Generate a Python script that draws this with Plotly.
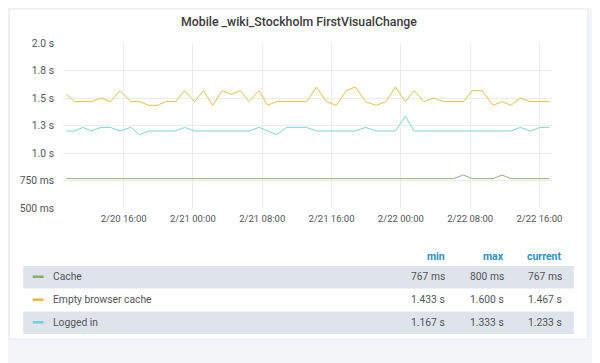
import plotly.graph_objects as go

# ---------------- data ----------------
times = [
    "2019-02-20 09:23", "2019-02-20 10:20", "2019-02-20 11:18", "2019-02-20 12:15",
    "2019-02-20 13:24", "2019-02-20 14:28", "2019-02-20 15:35", "2019-02-20 16:50",
    "2019-02-20 17:48", "2019-02-20 18:57", "2019-02-20 19:54", "2019-02-20 20:51",
    "2019-02-20 22:00", "2019-02-20 23:02", "2019-02-21 00:11", "2019-02-21 01:13",
    "2019-02-21 02:17", "2019-02-21 03:22", "2019-02-21 04:26", "2019-02-21 05:28",
    "2019-02-21 06:29", "2019-02-21 07:38", "2019-02-21 08:36", "2019-02-21 09:40",
    "2019-02-21 10:49", "2019-02-21 11:58", "2019-02-21 13:07", "2019-02-21 14:16",
    "2019-02-21 15:25", "2019-02-21 16:33", "2019-02-21 17:42", "2019-02-21 18:46",
    "2019-02-21 19:55", "2019-02-21 21:09", "2019-02-21 22:17", "2019-02-21 23:22",
    "2019-02-22 00:31", "2019-02-22 01:32", "2019-02-22 02:41", "2019-02-22 03:50",
    "2019-02-22 04:55", "2019-02-22 06:04", "2019-02-22 07:13", "2019-02-22 08:14",
    "2019-02-22 09:23", "2019-02-22 10:39", "2019-02-22 11:41", "2019-02-22 12:43",
    "2019-02-22 13:47", "2019-02-22 14:56", "2019-02-22 16:05", "2019-02-22 17:09",
]

cache_ms = [767] * 42 + [800] + [767] * 3 + [800] + [767] * 5

empty_cache_ms = [
    1533, 1467, 1467, 1467, 1500, 1467, 1567, 1467, 1467, 1433, 1433, 1467,
    1467, 1567, 1467, 1567, 1433, 1567, 1533, 1567, 1467, 1567, 1433, 1467,
    1467, 1467, 1467, 1600, 1467, 1433, 1567, 1600, 1467, 1433, 1467, 1600,
    1467, 1567, 1467, 1500, 1467, 1467, 1467, 1567, 1567, 1433, 1467, 1433,
    1500, 1467, 1467, 1467,
]

logged_in_ms = [
    1200, 1200, 1233, 1200, 1233, 1233, 1200, 1233, 1167, 1200, 1200, 1200,
    1200, 1233, 1200, 1200, 1200, 1200, 1200, 1200, 1200, 1233, 1200, 1167,
    1233, 1233, 1233, 1200, 1200, 1200, 1200, 1200, 1233, 1200, 1200, 1200,
    1333, 1200, 1200, 1200, 1200, 1200, 1200, 1200, 1200, 1200, 1200, 1200,
    1233, 1200, 1233, 1233,
]

series_names = ["Cache", "Empty browser cache", "Logged in"]
series_colors = ["#7EB26D", "#EAB839", "#6ED0E0"]

y_tickvals = [500, 750, 1000, 1250, 1500, 1750, 2000]
y_ticktext = ["500 ms", "750 ms", "1.0 s", "1.3 s", "1.5 s", "1.8 s", "2.0 s"]

x_tickvals = ["2019-02-20 16:00", "2019-02-21 00:00", "2019-02-21 08:00",
              "2019-02-21 16:00", "2019-02-22 00:00", "2019-02-22 08:00",
              "2019-02-22 16:00"]
x_ticktext = ["2/20 16:00", "2/21 00:00", "2/21 08:00", "2/21 16:00",
              "2/22 00:00", "2/22 08:00", "2/22 16:00"]

legend_headers = ["min", "max", "current"]

title_text = "Mobile _wiki_Stockholm FirstVisualChange"

# ---------------- layout helpers ----------------
# page is offset by the default 8px body margin; figure covers (8..600, 8..363)
OFF = 8
W, H = 600 - OFF, 363 - OFF
PL, PR, PT, PB = 60, 552, 43, 208   # plot area in page pixels


def px(x):
    return (x - PL) / (PR - PL)


def py(y):
    return (PB - y) / (PB - PT)


def fmt(v):
    if v < 1000:
        return f"{round(v)} ms"
    return f"{v / 1000:.3f} s"


FONT = "Roboto, 'Open Sans', sans-serif"
TXT = "#52545c"

fig = go.Figure()
all_series = [cache_ms, empty_cache_ms, logged_in_ms]
for name, vals, col in zip(series_names, all_series, series_colors):
    fig.add_trace(go.Scatter(x=times, y=vals, mode="lines", name=name,
                             line=dict(color=col, width=1), opacity=0.9,
                             showlegend=False))

shapes = []
annotations = []

# panel
shapes.append(dict(type="rect", xref="paper", yref="paper", layer="below",
                   x0=px(6), x1=px(588), y0=py(339), y1=py(9),
                   fillcolor="white", line=dict(color="#e6e9ee", width=1)))

# legend table
row_y = [276.7, 299.7, 322.3]
bands = [(266, 288.5), None, (311.5, 334)]
for b in bands:
    if b:
        shapes.append(dict(type="rect", xref="paper", yref="paper", layer="below",
                           x0=px(20), x1=px(574), y0=py(b[1]), y1=py(b[0]),
                           fillcolor="#dfe4ec", line=dict(width=0)))

col_x = [446.7, 505.7, 564.3]
for hx, h in zip(col_x, legend_headers):
    annotations.append(dict(xref="paper", yref="paper", x=px(hx), y=py(256.5),
                            text=f"<b>{h}</b>", showarrow=False, xanchor="right",
                            yanchor="middle",
                            font=dict(family=FONT, size=10.5, color="#2a92c9")))

for ry, name, vals, col in zip(row_y, series_names, all_series, series_colors):
    shapes.append(dict(type="line", xref="paper", yref="paper",
                       x0=px(29.5), x1=px(40.5), y0=py(ry), y1=py(ry),
                       line=dict(color=col, width=2.5)))
    annotations.append(dict(xref="paper", yref="paper", x=px(47.5), y=py(ry),
                            text=name, showarrow=False, xanchor="left",
                            yanchor="middle",
                            font=dict(family=FONT, size=10.3, color=TXT)))
    stats = [min(vals), max(vals), vals[-1]]
    for cx, s in zip(col_x, stats):
        annotations.append(dict(xref="paper", yref="paper", x=px(cx), y=py(ry),
                                text=fmt(s), showarrow=False, xanchor="right",
                                yanchor="middle",
                                font=dict(family=FONT, size=10.3, color=TXT)))

# title
annotations.append(dict(xref="paper", yref="paper", x=px(297), y=py(22),
                        text=title_text, showarrow=False, xanchor="center",
                        yanchor="middle",
                        font=dict(family=FONT, size=12.3, color="#3a3a3a", weight=500)))

fig.update_layout(
    width=W, height=H,
    margin=dict(l=PL - OFF, r=600 - PR, t=PT - OFF, b=363 - PB, pad=0),
    paper_bgcolor="#f4f5f8",
    plot_bgcolor="rgba(0,0,0,0)",
    shapes=shapes,
    annotations=annotations,
    showlegend=False,
    xaxis=dict(type="date", range=["2019-02-20 09:00", "2019-02-22 17:27"],
               tickvals=x_tickvals, ticktext=x_ticktext, showgrid=True,
               gridcolor="#ececec", gridwidth=1, zeroline=False, showline=False,
               ticks="", ticklabelstandoff=3,
               tickfont=dict(family=FONT, size=9.5, color=TXT)),
    yaxis=dict(range=[500, 2000], tickvals=y_tickvals, ticktext=y_ticktext,
               showgrid=True, gridcolor="#ececec", gridwidth=1, zeroline=False,
               showline=False, ticks="", ticklabelstandoff=8,
               tickfont=dict(family=FONT, size=10.3, color=TXT)),
)

fig.write_html("out.html")
